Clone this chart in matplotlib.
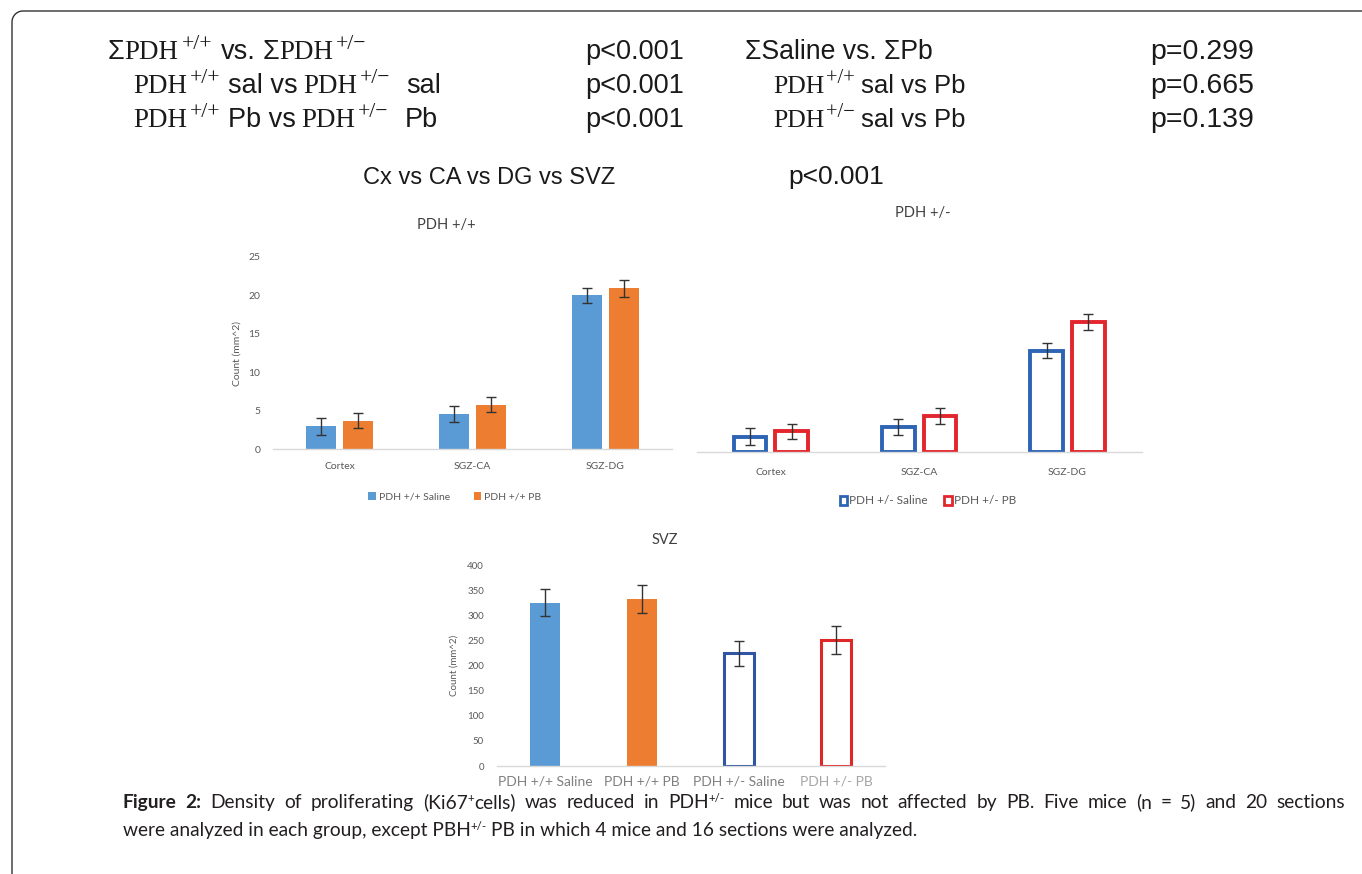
import numpy as np
import matplotlib
matplotlib.use('Agg')
import matplotlib.pyplot as plt
from matplotlib.lines import Line2D
from matplotlib.patches import Patch

# ---------------- data ----------------
regions = ['Cortex', 'SGZ-CA', 'SGZ-DG']
wt_saline = [3.0, 4.6, 20.0]
wt_saline_err = [1.1, 1.0, 1.0]
wt_pb = [3.7, 5.8, 20.9]
wt_pb_err = [1.0, 1.0, 1.1]
het_saline = [2.0, 3.3, 13.2]
het_saline_err = [1.1, 1.0, 1.0]
het_pb = [2.7, 4.7, 16.9]
het_pb_err = [1.0, 1.0, 1.05]
svz_groups = ['PDH +/+ Saline', 'PDH +/+ PB', 'PDH +/- Saline', 'PDH +/- PB']
svz_values = [326, 333, 225, 251]
svz_err = [27, 28, 25, 28]
wt_ticks = [0, 5, 10, 15, 20, 25]
svz_ticks = [0, 50, 100, 150, 200, 250, 300, 350, 400]

BLUE = '#5B9BD5'
ORANGE = '#ED7D31'
BLUE_D = '#2E64B4'
RED = '#E3262D'
GREY = '#595959'
CFONT = 'Lato'
CAPFONT = 'Lato'

W, H = 1362, 874
fig = plt.figure(figsize=(W / 100, H / 100), dpi=100)
renderer = fig.canvas.get_renderer()


def fx(x):
    return x / W


def fy(y):
    return 1 - y / H


def ax_px(x0, y0, x1, y1):
    return fig.add_axes([fx(x0), fy(y1), (x1 - x0) / W, (y1 - y0) / H])


def runs(x, y, parts, size, color='#1a1a1a'):
    made = []
    for p in parts:
        s, fam, rel, dy, gap = p[:5]
        weight = p[5] if len(p) > 5 else 'normal'
        t = fig.text(fx(x), fy(y - dy), s, fontsize=size * rel, family=fam,
                     va='baseline', ha='left', color=color, fontweight=weight)
        made.append(t)
        x += t.get_window_extent(renderer).width + gap
    return x, made


def style_axes(ax, show_y=True):
    for sp in ['top', 'right', 'left']:
        ax.spines[sp].set_visible(False)
    ax.spines['bottom'].set_color('#d9d9d9')
    ax.spines['bottom'].set_linewidth(1.0)
    ax.tick_params(length=0)
    for lab in ax.get_xticklabels() + ax.get_yticklabels():
        lab.set_family(CFONT)
        lab.set_color(GREY)
    if not show_y:
        ax.set_yticks([])


ekw = dict(elinewidth=1.0, ecolor='#333333', capthick=1.0)

# ---------------- chart 1: PDH +/+ ----------------
ax1 = ax_px(273, 256.7, 672, 449.3)
x = np.arange(len(regions))
ax1.bar(x - 0.14, wt_saline, 0.22, color=BLUE, yerr=wt_saline_err, capsize=3.5, error_kw=ekw)
ax1.bar(x + 0.14, wt_pb, 0.22, color=ORANGE, yerr=wt_pb_err, capsize=3.5, error_kw=ekw)
ax1.set_xlim(-0.5, 2.5)
ax1.set_ylim(0, 25)
ax1.set_yticks(wt_ticks)
ax1.set_yticklabels([str(v) for v in wt_ticks], fontsize=7.5)
ax1.set_xticks(x)
ax1.set_xticklabels(regions, fontsize=7.5)
ax1.tick_params(axis='y', pad=9)
ax1.tick_params(axis='x', pad=9)
style_axes(ax1)
ax1.set_ylabel('Count (mm^2)', fontsize=7.5, family=CFONT, color=GREY, labelpad=5)
fig.text(fx(446.7), fy(225), 'PDH +/+', fontsize=10.5, family=CFONT, color='#404040',
         ha='center', va='center')
fig.legend([Patch(facecolor=BLUE), Patch(facecolor=ORANGE)],
           ['PDH +/+ Saline', 'PDH +/+ PB'], loc='center',
           bbox_to_anchor=(fx(455), fy(497)), ncol=2, frameon=False,
           prop={'family': CFONT, 'size': 7.5}, handlelength=0.7, handleheight=0.7,
           handletextpad=0.3, columnspacing=2.3, labelcolor=GREY)

# ---------------- chart 2: PDH +/- ----------------
ax2 = ax_px(696.7, 259.7, 1141.7, 452.3)
ax2.bar(x - 0.14, het_saline, 0.22, facecolor='white', edgecolor=BLUE_D, linewidth=2.8,
        yerr=het_saline_err, capsize=3.5, error_kw=ekw)
ax2.bar(x + 0.14, het_pb, 0.22, facecolor='white', edgecolor=RED, linewidth=2.8,
        yerr=het_pb_err, capsize=3.5, error_kw=ekw)
ax2.set_xlim(-0.5, 2.5)
ax2.set_ylim(0, 25)
ax2.set_xticks(x)
ax2.set_xticklabels(regions, fontsize=7.5)
ax2.tick_params(axis='x', pad=11)
style_axes(ax2, show_y=False)
fig.text(fx(923), fy(213), 'PDH +/-', fontsize=10.5, family=CFONT, color='#404040',
         ha='center', va='center')
fig.legend([Patch(facecolor='white', edgecolor=BLUE_D, linewidth=2),
            Patch(facecolor='white', edgecolor=RED, linewidth=2)],
           ['PDH +/- Saline', 'PDH +/- PB'], loc='center',
           bbox_to_anchor=(fx(928), fy(501)), ncol=2, frameon=False,
           prop={'family': CFONT, 'size': 8.5}, handlelength=0.6, handleheight=0.7,
           handletextpad=0.2, columnspacing=1.4, labelcolor=GREY)

# ---------------- chart 3: SVZ ----------------
ax3 = ax_px(496.5, 565.7, 884.5, 766)
xs = np.arange(len(svz_groups))
faces = [BLUE, ORANGE, 'white', 'white']
edges = [BLUE, ORANGE, '#2F55A4', '#E02727']
lws = [0, 0, 2.2, 2.2]
ax3.bar(xs, svz_values, 0.31, color=faces, edgecolor=edges, linewidth=lws,
        yerr=svz_err, capsize=3.5, error_kw=ekw)
ax3.set_xlim(-0.5, 3.5)
ax3.set_ylim(0, 400)
ax3.set_yticks(svz_ticks)
ax3.set_yticklabels([str(v) for v in svz_ticks], fontsize=7)
ax3.set_xticks(xs)
ax3.set_xticklabels(svz_groups, fontsize=10)
ax3.tick_params(axis='y', pad=9)
ax3.tick_params(axis='x', pad=7)
style_axes(ax3)
for lab in ax3.get_xticklabels():
    lab.set_color('#808080')
ax3.get_xticklabels()[3].set_color('#a6a6a6')
ax3.set_ylabel('Count (mm^2)', fontsize=7, family=CFONT, color=GREY, labelpad=6)
fig.text(fx(665), fy(540), 'SVZ', fontsize=10.5, family=CFONT, color='#404040',
         ha='center', va='center')

# ---------------- header statistics ----------------
HL = 19.5
HR = 18.5
SANS = 'Liberation Sans'
SERIF = 'Liberation Serif'
SUP = 0.8
RAISE = 10
runs(108, 59, [('Σ', SANS, 1, 0, 0), ('PDH', SERIF, 1, 0, 3), ('+/+', SERIF, SUP, RAISE, 9),
               ('vs.', SANS, 1, 0, 6), ('Σ', SANS, 1, 0, 0), ('PDH', SERIF, 1, 0, 3),
               ('+/−', SERIF, SUP, RAISE, 0)], HL)
runs(133, 93, [('PDH', SERIF, 1, 0, 3), ('+/+', SERIF, SUP, RAISE, 7), ('sal vs', SANS, 1, 0, 6),
               ('PDH', SERIF, 1, 0, 3), ('+/−', SERIF, SUP, RAISE, 16), ('sal', SANS, 1, 0, 0)], HL)
runs(133, 127, [('PDH', SERIF, 1, 0, 3), ('+/+', SERIF, SUP, RAISE, 7), ('Pb vs', SANS, 1, 0, 6),
                ('PDH', SERIF, 1, 0, 3), ('+/−', SERIF, SUP, RAISE, 16), ('Pb', SANS, 1, 0, 0)], HL)
for yy in [59, 93, 127]:
    fig.text(fx(585), fy(yy), 'p<0.001', fontsize=HL, family=SANS, color='#1a1a1a', va='baseline')

fig.text(fx(745), fy(59), 'ΣSaline vs. ΣPb', fontsize=19.2, family=SANS, color='#1a1a1a', va='baseline')
runs(773, 93, [('PDH', SERIF, 1, 0, 2), ('+/+', SERIF, SUP, RAISE, 6), ('sal vs Pb', SANS, 1, 0, 0)], HR)
runs(773, 127, [('PDH', SERIF, 1, 0, 2), ('+/−', SERIF, SUP, RAISE, 6), ('sal vs Pb', SANS, 1, 0, 0)], HR)
for yy, s in zip([59, 93, 127], ['p=0.299', 'p=0.665', 'p=0.139']):
    fig.text(fx(1150), fy(yy), s, fontsize=20.5, family=SANS, color='#1a1a1a', va='baseline')

fig.text(fx(363), fy(184), 'Cx vs CA vs DG vs SVZ', fontsize=17, family=SANS, color='#1a1a1a', va='baseline')
fig.text(fx(788), fy(184), 'p<0.001', fontsize=19, family=SANS, color='#1a1a1a', va='baseline')

# ---------------- caption (first line justified) ----------------
CAPC = '#231f20'
CS = 13.8
N = (CAPFONT, 1, 0, 0)
S = (CAPFONT, 0.6, 6, 0)


def word(*parts):
    out = []
    for s, spec in parts:
        out.append((s,) + spec)
    return out


line1 = [[(s, CAPFONT, 1, 0, 0, 'bold')] for s in ['Figure', '2:']]
line1 += [word((w, N)) for w in ['Density', 'of', 'proliferating']]
line1 += [word(('(Ki67', N), ('+', S), ('cells)', N))]
line1 += [word((w, N)) for w in ['was', 'reduced', 'in']]
line1 += [word(('PDH', N), ('+/-', S))]
line1 += [word((w, N)) for w in ['mice', 'but', 'was', 'not', 'affected', 'by', 'PB.', 'Five',
                                  'mice', '(n', '=', '5)', 'and', '20', 'sections']]


def measure(parts):
    total = 0
    for p in parts:
        t = fig.text(0, 0, p[0], fontsize=CS * p[2], family=p[1],
                     fontweight=p[5] if len(p) > 5 else 'normal')
        total += t.get_window_extent(renderer).width
        t.remove()
    return total


widths = [measure(w) for w in line1]
x0, x1 = 123, 1345
gap = (x1 - x0 - sum(widths)) / (len(line1) - 1)
xc = x0
for w, wd in zip(line1, widths):
    runs(xc, 808, w, CS, color=CAPC)
    xc += wd + gap

runs(123, 836, [('were analyzed in each group, except PBH', CAPFONT, 1, 0, 0),
                ('+/-', CAPFONT, 0.6, 6, 4),
                ('PB in which 4 mice and 16 sections were analyzed.', CAPFONT, 1, 0, 0)],
     CS, color=CAPC)

# ---------------- frame ----------------
r = 11
th = np.linspace(np.pi, np.pi / 2, 20)
cx, cy = 12 + r, 11 + r
px = [12, 12] + list(cx + r * np.cos(th)) + [W + 5]
py = [H + 5, cy] + list(cy - r * np.sin(th)) + [11]
fig.add_artist(Line2D([fx(v) for v in px], [fy(v) for v in py], color='#333333', linewidth=1.0))

fig.savefig('out.png', dpi=100)
